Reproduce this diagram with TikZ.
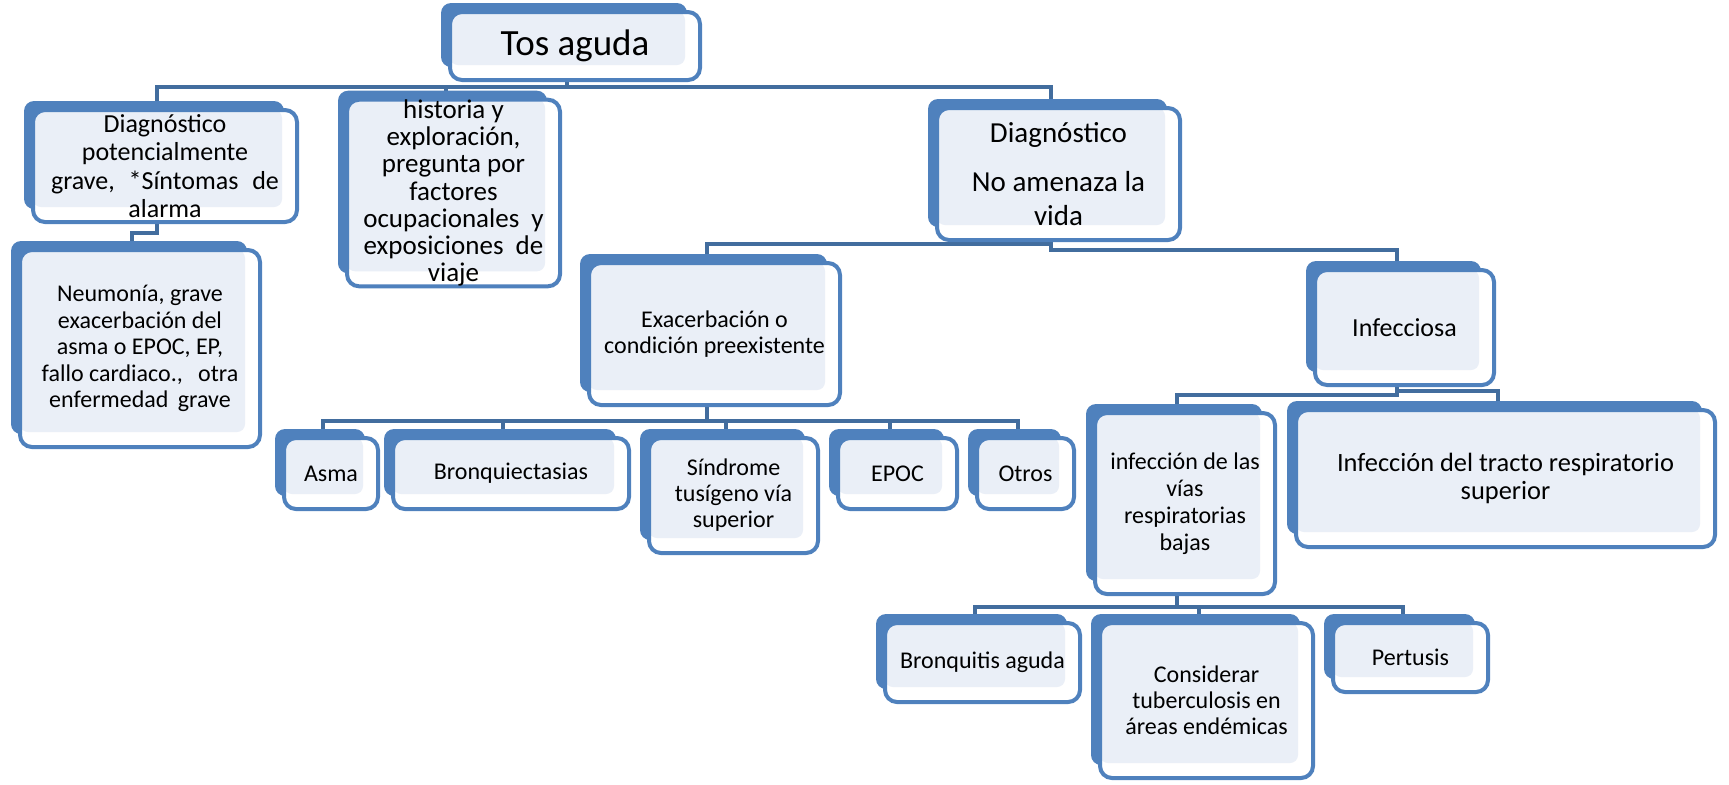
\documentclass[tikz,border=0pt]{standalone}
\usepackage{fontspec}
\setmainfont{Carlito}
\usetikzlibrary{positioning, calc}
\definecolor{boxblue}{RGB}{79,129,189}
\definecolor{boxlight}{RGB}{234,239,247}
\definecolor{linkblue}{RGB}{66,109,158}
\pgfdeclarelayer{background}
\pgfsetlayers{background,main}
\tikzset{
	tbox/.style={rectangle, draw=boxblue, line width=2pt, fill=white, rounded corners=6pt, align=center, inner sep=0pt,
		font=\fontsize{12}{13.3}\selectfont,
		path picture={\fill[boxlight, rounded corners=4pt] (path picture bounding box.north west) rectangle ([shift={(-15,-15)}]path picture bounding box.south east);}},
	backshape/.style={fill=boxblue, rounded corners=5pt},
	link/.style={draw=linkblue, line width=2pt}
}

\begin{document}
\begin{tikzpicture}[x=0.5pt, y=-0.5pt]
        \useasboundingbox (0,0) rectangle (1729,784);

        \node[tbox, minimum width=125pt, minimum height=34pt, font=\fontsize{18.5}{20}\selectfont] (tos) at (575,46) {Tos aguda};
        \node[tbox, minimum width=132pt, minimum height=56pt, font=\fontsize{13}{14.2}\selectfont] (diagpot) at (165,166) {Diagnóstico\\potencialmente\\grave,\hspace{4pt} *Síntomas\hspace{4pt} de\\alarma};
        \node[tbox, minimum width=106.5pt, minimum height=90.5pt, font=\fontsize{13.5}{13.6}\selectfont] (hist) at (453.5,193) {historia y\\exploración,\\pregunta por\\factores\\ocupacionales\hspace{3pt} y\\exposiciones\hspace{3pt} de\\viaje};
        \node[tbox, minimum width=120pt, minimum height=98.5pt] (neum) at (140,348.5) {Neumonía, grave\\exacerbación del\\asma o EPOC, EP,\\fallo cardiaco.,\hspace{5pt} otra\\enfermedad\hspace{2pt} grave};
        \node[tbox, minimum width=121.5pt, minimum height=66pt, font=\fontsize{14.5}{16.7}\selectfont] (noamen) at (1058.5,174) {Diagnóstico\\[8pt]No amenaza la\\vida};

        \node[tbox, minimum width=125.5pt, minimum height=71pt] (exac) at (714.5,334) {Exacerbación o\\condición preexistente};
        \node[tbox, minimum width=47pt, minimum height=35.5pt] (asma) at (331,473.5) {Asma};
        \node[tbox, minimum width=118pt, minimum height=35.5pt] (bronq) at (511,473.5) {Bronquiectasias};
        \node[tbox, minimum width=84.5pt, minimum height=57.5pt, font=\fontsize{12}{13}\selectfont] (sindr) at (733.5,495.5) {Síndrome\\tusígeno vía\\superior};
        \node[tbox, minimum width=59.5pt, minimum height=35.5pt] (epoc) at (897.5,473.5) {EPOC};
        \node[tbox, minimum width=48.5pt, minimum height=35.5pt] (otros) at (1025.5,473.5) {Otros};

        \node[tbox, minimum width=89.5pt, minimum height=57.5pt, font=\fontsize{13}{14}\selectfont] (infec) at (1404.5,327.5) {Infecciosa};
        \node[tbox, minimum width=90pt, minimum height=90.5pt, font=\fontsize{12}{13.5}\selectfont] (bajas) at (1185,503.5) {infección de las\\vías\\respiratorias\\bajas};
        \node[tbox, minimum width=209.5pt, minimum height=68.5pt, font=\fontsize{13.2}{14}\selectfont] (tracto) at (1505.5,478.5) {Infección del tracto respiratorio\\superior};
        \node[tbox, minimum width=97.5pt, minimum height=39.5pt] (bronquitis) at (982.5,662.5) {Bronquitis aguda};
        \node[tbox, minimum width=106.5pt, minimum height=77.5pt, font=\fontsize{12}{13}\selectfont] (tuberc) at (1206.5,700.5) {Considerar\\tuberculosis en\\áreas endémicas};
        \node[tbox, minimum width=77.5pt, minimum height=34.5pt] (pertusis) at (1410.5,657.5) {Pertusis};

        \begin{pgfonlayer}{background}
        % connectors (they leave and reach the middle of the blue back shapes)
        \draw[link] ([xshift=-4pt]tos.south) -- ++(0,5) -| ([xshift=-4pt]diagpot.north);
        \draw[link] ([xshift=-4pt]tos.south) -- ++(0,5) -| ([xshift=-4pt]hist.north);
        \draw[link] ([xshift=-4pt]tos.south) -- ++(0,5) -| ([xshift=-4pt]noamen.north);
        \draw[link] ([xshift=-4pt]diagpot.south) -- ++(0,9) -| ([xshift=-4pt]neum.north);
        \draw[link] ([xshift=-4pt]noamen.south) -- ++(0,2) -| ([xshift=-4pt]exac.north);
        \draw[link] ([xshift=-4pt]noamen.south) -- ++(0,8) -| ([xshift=-4pt]infec.north);
        \foreach \c in {asma,bronq,sindr,epoc,otros}
            \draw[link] ([xshift=-4pt]exac.south) -- ++(0,14) -| ([xshift=-4pt]\c.north);
        \draw[link] ([xshift=-4pt]infec.south) -- ++(0,8) -| ([xshift=-4pt]bajas.north);
        \draw[link] ([xshift=-4pt]infec.south) -- ++(0,4) -| ([xshift=-4pt]tracto.north);
        \foreach \c in {bronquitis,tuberc,pertusis}
            \draw[link] ([xshift=-4pt]bajas.south) -- ++(0,11) -| ([xshift=-4pt]\c.north);

        % blue shapes behind the boxes
        \foreach \n in {tos,diagpot,hist,neum,noamen,exac,asma,bronq,sindr,epoc,otros,infec,bajas,tracto,bronquitis,tuberc,pertusis}
            \fill[backshape] ([shift={(-7,-7)}]\n.north west) rectangle ([shift={(-15,-15)}]\n.south east);
        \end{pgfonlayer}
\end{tikzpicture}
\end{document}
